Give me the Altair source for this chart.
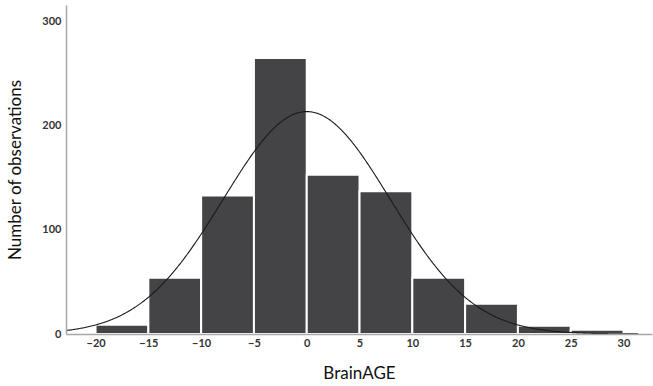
import altair as alt
import pandas as pd

# Histogram of BrainAGE (bin width 5) with fitted normal curve
bin_start = [-20, -15, -10, -5, 0, 5, 10, 15, 20, 25]
bin_end = [-15, -10, -5, 0, 5, 10, 15, 20, 25, 30]
counts = [9, 54, 133, 265, 153, 137, 54, 29, 8, 4]

# Normal fit parameters
fit_mean = 0.0
fit_sd = 7.9
n_obs = sum(counts)
bin_width = 5

x_ticks = [-20, -15, -10, -5, 0, 5, 10, 15, 20, 25, 30]
y_ticks = [0, 100, 200, 300]
x_domain = [-22.8, 32.7]
y_domain = [0, 316]

FONT = "Lato"

bars_df = pd.DataFrame({"start": bin_start, "end": bin_end, "count": counts})

x_scale = alt.Scale(domain=x_domain, nice=False, zero=False)
y_scale = alt.Scale(domain=y_domain, nice=False)

x_axis = alt.Axis(
    values=x_ticks, title="BrainAGE", ticks=False, grid=False,
    labelFont=FONT, labelFontSize=11, labelColor="#333333", labelFontWeight="bold",
    labelPadding=3, domainColor="#a8a8a8", domainWidth=1.5, zindex=1,
    titleFont=FONT, titleFontSize=17, titleFontWeight="normal", titleColor="#111111",
    titlePadding=17,
)
y_axis = alt.Axis(
    values=y_ticks, title="Number of observations", ticks=False, grid=False,
    labelFont=FONT, labelFontSize=11, labelColor="#333333", labelFontWeight="bold",
    labelPadding=5, domainColor="#a8a8a8", domainWidth=1.5, zindex=1,
    titleFont=FONT, titleFontSize=17, titleFontWeight="normal", titleColor="#111111",
    titlePadding=17,
)

bars = alt.Chart(bars_df).mark_rect(
    color="#444446", stroke="white", strokeWidth=2
).encode(
    x=alt.X("start:Q", scale=x_scale, axis=x_axis),
    x2="end:Q",
    y=alt.Y("count:Q", scale=y_scale, axis=y_axis),
    y2=alt.datum(0),
)

curve = alt.Chart(alt.sequence(x_domain[0], 31.5, 0.1, as_="x")).transform_calculate(
    y=f"{n_obs}*{bin_width}*exp(-0.5*pow((datum.x-{fit_mean})/{fit_sd},2))/({fit_sd}*sqrt(2*PI))"
).mark_line(color="#1a1a1a", strokeWidth=1.1, clip=True).encode(
    x=alt.X("x:Q", scale=x_scale),
    y=alt.Y("y:Q", scale=y_scale),
)

chart = (bars + curve).properties(
    width=586, height=329,
    autosize=alt.AutoSizeParams(type="none"),
    padding={"left": 66, "top": 5, "right": 1, "bottom": 52},
    background="white",
).configure_view(stroke=None)

chart.save("out.html", embed_options={"renderer": "svg", "actions": False})
